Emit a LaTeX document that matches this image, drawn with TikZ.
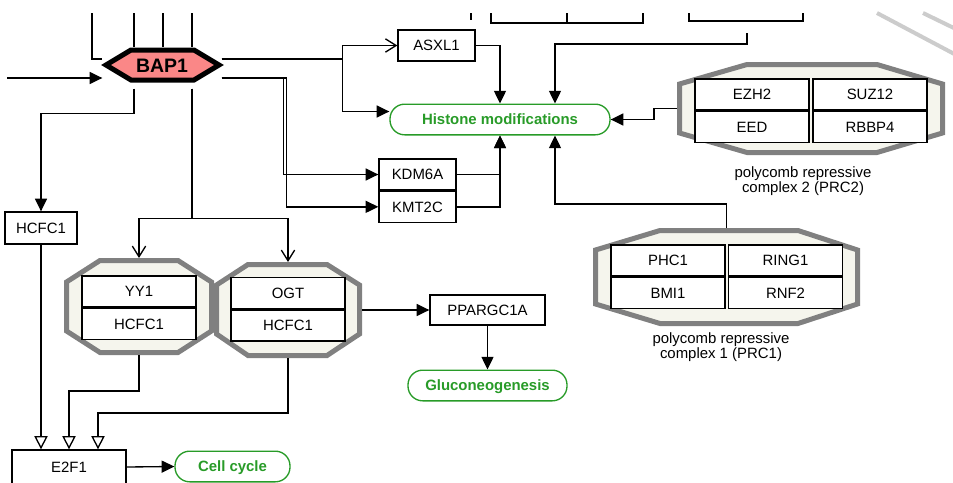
\documentclass[tikz,border=0pt]{standalone}
\usepackage{fontspec}
\setmainfont{Liberation Sans}
\usetikzlibrary{arrows.meta, positioning, fit}
\definecolor{bapred}{RGB}{250,135,135}
\definecolor{labelgreen}{RGB}{40,155,40}
\definecolor{complexgray}{RGB}{128,128,128}
\definecolor{complexfill}{RGB}{245,245,237}

\begin{document}
\begin{tikzpicture}[x=0.75pt, y=-0.75pt, line width=1pt,
                    main node/.style={draw,
                      fill=white,
                      font=\fontsize{11.2}{13}\selectfont,
                      text height=8pt, text depth=0pt,
                      inner sep=0pt,
                      minimum width=57.75pt,
                      minimum height=23.25pt},
                    wide node/.style={main node, minimum width=85.5pt},
                    label node/.style={draw=labelgreen,
                      text=labelgreen,
                      rounded corners=11pt,
                      font=\fontsize{11.2}{13}\selectfont\bfseries,
                      text height=8pt, text depth=0pt,
                      inner sep=0pt,
                      minimum height=23pt},
                    complex/.style={draw=complexgray, fill=complexfill, line width=3.75pt},
                    hull/.style={inner sep=0pt, outer sep=0pt},
                    tri/.style={-{Triangle[length=9.5pt, width=9pt]}},
                    barb/.style={-{Straight Barb[length=8pt, width=10pt]}},
                    open arrow/.style={-{Triangle[open, length=10pt, width=10pt, fill=white]}}]

  \useasboundingbox (0,0) rectangle (953,482);

  \draw[complex] (66.5,282) -- (100,260.5) -- (178,260.5) -- (211.5,282) -- (211.5,331)
    -- (178,352.5) -- (100,352.5) -- (66.5,331) -- cycle;
  \draw[complex] (216.5,285) -- (248,264.5) -- (327,264.5) -- (359.5,285) -- (359.5,334)
    -- (327,355.5) -- (248,355.5) -- (216.5,334) -- cycle;
  \draw[complex] (679.5,84) -- (747,64.5) -- (877,64.5) -- (942.5,84) -- (942.5,133)
    -- (877,152.5) -- (747,152.5) -- (679.5,133) -- cycle;
  \draw[complex] (595.5,250) -- (660,230.5) -- (798,230.5) -- (857.5,250) -- (857.5,304)
    -- (798,323.5) -- (660,323.5) -- (595.5,304) -- cycle;
  \node[hull, fit={(64,258) (214,355)}] (25) {};
  \node[hull, fit={(214,262) (362,358)}] (26) {};
  \node[hull, fit={(677,62) (945,155)}] (27) {};
  \node[hull, fit={(593,228) (860,326)}] (28) {};

  \draw[line width=3.75pt, fill=bapred] (106,65) -- (131,50) -- (194,50) -- (219,65)
    -- (194,80) -- (131,80) -- cycle;
  \node[font=\fontsize{14.6}{16}\selectfont\bfseries, text height=10.5pt, text depth=0pt,
        inner sep=0pt, minimum width=88.5pt, minimum height=25.5pt] (1) at (162,65) {BAP1};

  \node[main node, minimum width=54pt, minimum height=24pt] (2) at (41,228) {HCFC1};
  \node[main node] (3) at (436.5,45.5) {ASXL1};
  \node[label node, minimum width=165pt] (4) at (500,119.5) {Histone modifications};
  \node[main node] (5) at (417.5,174.5) {KDM6A};
  \node[main node] (6) [below=0pt of 5] {KMT2C};
  \node[wide node] (7) at (139,291.5) {YY1};
  \node[wide node] (8) [below=0pt of 7] {HCFC1};
  \node[wide node] (9) at (288,293) {OGT};
  \node[wide node] (10) [below=0pt of 9] {HCFC1};
  \node[main node, minimum width=86.25pt, minimum height=22.5pt] (11) at (487.5,310) {PPARGC1A};
  \node[label node, minimum width=119.25pt] (12) at (487.5,385.5) {Gluconeogenesis};
  \node[wide node, minimum height=25.5pt] (13) at (69,467) {E2F1};
  \node[label node, minimum width=86.25pt] (14) at (232.5,466.5) {Cell cycle};
  \node[wide node] (15) at (752,94.5) {EZH2};
  \node[wide node] (16) [below=0pt of 15] {EED};
  \node[wide node] (17) at (870,94.5) {SUZ12};
  \node[wide node] (18) [below=0pt of 17] {RBBP4};
  \node[wide node] (19) at (668,260.5) {PHC1};
  \node[wide node] (20) [below=0pt of 19] {BMI1};
  \node[wide node] (21) at (785.5,260.5) {RING1};
  \node[wide node] (22) [below=0pt of 21] {RNF2};
  \node[align=center, font=\fontsize{11.2}{11.6}\selectfont] (23) at (803,181)
    {polycomb repressive\\complex 2 (PRC2)};
  \node[align=center, font=\fontsize{11.2}{11.6}\selectfont] (24) at (721,347)
    {polycomb repressive\\complex 1 (PRC1)};

  \coordinate (29) at (92,13);
  \coordinate (30) at (134,13);
  \coordinate (31) at (163,13);
  \coordinate (32) at (192,13);
  \coordinate (33) at (7,78);
  \coordinate (34) at (747,33);

  \draw (471,13) -- (471,20);
  \draw (491,13) |- (643,23) -- (643,13);
  \draw (567,13) -- (567,23);
  \draw (689,13) |- (803,21) -- (803,13);
  \draw[gray!40, line width=3pt] (877,13) -- (960,57);
  \draw[gray!40, line width=3pt] (923,13) -- (960,31);

  \draw (29) |- ([yshift=4.5pt]1.west);
  \draw (30) -- (30 |- 1.north);
  \draw (31) -- (31 |- 1.north);
  \draw (32) -- (32 |- 1.north);
  \draw[tri] (33) -- (33 -| 1.west);

  \draw[barb] ([yshift=4.5pt]1.east) -- ++(121,0) |- (3.west);
  \draw[tri] ([yshift=4.5pt]1.east) -- ++(121,0) |- ([yshift=6pt]4.west);
  \draw[tri] ([yshift=-9.75pt]1.east) -- ++(62,0) |- (5.west);
  \draw[tri] ([yshift=-9.75pt]1.east) -- ++(65,0) |- (6.west);
  \draw[tri] (30 |- 1.south) ++(0,6) -- ++(0,25) -| (2.north);
  \draw[barb] (32 |- 1.south) ++(0,6) -- ++(0,130) -| (25.north);
  \draw[barb] (32 |- 1.south) ++(0,6) -- ++(0,130) -| (26.north);

  \draw[tri] (3.east) -| (4.north);
  \draw[tri] (34) -- ++(0,11) -| ([xshift=41.25pt]4.north);
  \draw[tri] (5.east) -| (4.south);
  \draw[tri] (6.east) -| (4.south);
  \draw[tri] (28.north) -- ++(0,-24) -| ([xshift=41.25pt]4.south);
  \draw[tri] (27.west) -- ++(-23,0) |- (4.east);

  \draw[tri] (26.east) -- (11.west);
  \draw[tri] (11.south) -- (12.north);
  \draw[open arrow] (2.south) -- (2.south |- 13.north);
  \draw[open arrow] (25.south) -- ++(0,36) -| (13.north);
  \draw[open arrow] (26.south) -- ++(0,55) -| ([xshift=21.75pt]13.north);
  \draw[tri] (13.east) -- (14.west);
\end{tikzpicture}
\end{document}
